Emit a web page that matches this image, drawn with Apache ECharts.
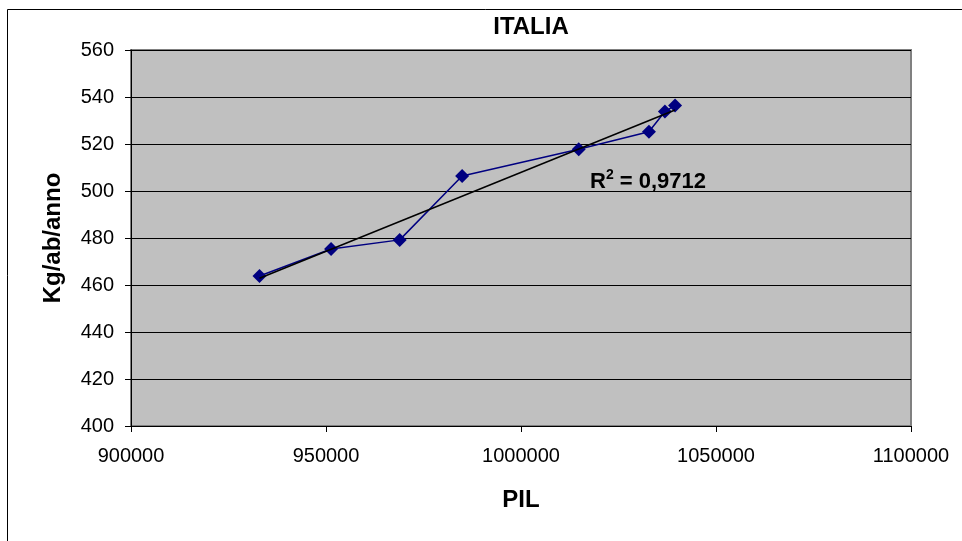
<!DOCTYPE html>
<html>
<head>
<meta charset="utf-8">
<script src="https://cdn.jsdelivr.net/npm/echarts@6/dist/echarts.min.js"></script>
<style>html,body{margin:0;padding:0;background:#fff}#c{width:962px;height:541px}</style>
</head>
<body>
<div id="c"></div>
<script>
const titleText = 'ITALIA';
const xAxisName = 'PIL';
const yAxisName = 'Kg/ab/anno';
const pil = [932950, 951300, 968900, 984900, 1014800, 1032800, 1036900, 1039500];
const kgAbAnno = [463.8, 475.3, 479.2, 506.4, 517.8, 525.2, 533.8, 536.4];
const r2Text = '0,9712';

// Linear trendline (least squares) from the data
const n = pil.length;
const mx = pil.reduce((a, b) => a + b, 0) / n;
const my = kgAbAnno.reduce((a, b) => a + b, 0) / n;
let sxy = 0, sxx = 0;
for (let i = 0; i < n; i++) { sxy += (pil[i] - mx) * (kgAbAnno[i] - my); sxx += (pil[i] - mx) ** 2; }
const slope = sxy / sxx, icpt = my - slope * mx;
const xMin = Math.min(...pil), xMax = Math.max(...pil);
const trend = [[xMin, icpt + slope * xMin], [xMax, icpt + slope * xMax]];

const font = 'Arial, "Liberation Sans", sans-serif';
const chart = echarts.init(document.getElementById('c'));
chart.setOption({
  animation: false,
  backgroundColor: '#fff',
  title: {
    text: titleText, left: 526, top: 10, textAlign: 'center',
    textStyle: { fontFamily: font, fontSize: 24, fontWeight: 'bold', color: '#000' }
  },
  grid: {
    left: 131, right: 51, top: 50, bottom: 115,
    show: true, backgroundColor: '#C0C0C0', borderColor: '#808080', borderWidth: 2
  },
  xAxis: {
    type: 'value', min: 900000, max: 1100000, interval: 50000,
    name: xAxisName, nameLocation: 'middle', nameGap: 62,
    nameTextStyle: { fontFamily: font, fontSize: 24, fontWeight: 'bold', color: '#000' },
    axisLine: { show: true, onZero: false, lineStyle: { color: '#000', width: 1 } },
    axisTick: { show: true, inside: false, length: 6, lineStyle: { color: '#000' } },
    axisLabel: { fontFamily: font, fontSize: 20, color: '#000', margin: 20, formatter: v => String(v) },
    splitLine: { show: false }
  },
  yAxis: {
    type: 'value', min: 400, max: 560, interval: 20,
    name: yAxisName, nameLocation: 'middle', nameGap: 66, nameRotate: 90,
    nameTextStyle: { fontFamily: font, fontSize: 24, fontWeight: 'bold', color: '#000' },
    axisLine: { show: true, onZero: false, lineStyle: { color: '#000', width: 1 } },
    axisTick: { show: true, inside: false, length: 6, lineStyle: { color: '#000' } },
    axisLabel: { fontFamily: font, fontSize: 20, color: '#000', margin: 17 },
    splitLine: { show: true, lineStyle: { color: '#000', width: 1 } }
  },
  graphic: [
    { type: 'rect', shape: { x: 7.5, y: 9.5, width: 1000, height: 1000 }, style: { fill: 'none', stroke: '#000', lineWidth: 1 }, silent: true, z: -1 },
    {
      type: 'text', left: 590, top: 168, z: 100,
      style: {
        text: '{r|R}{s|2}{r| = ' + r2Text + '}',
        rich: {
          r: { fontFamily: font, fontSize: 22, fontWeight: 'bold', fill: '#000' },
          s: { fontFamily: font, fontSize: 14, fontWeight: 'bold', fill: '#000', verticalAlign: 'top', padding: [0, 0, 14, 0] }
        }
      }
    }
  ],
  series: [
    {
      type: 'line', data: pil.map((x, i) => [x, kgAbAnno[i]]),
      symbol: 'diamond', symbolSize: 14,
      itemStyle: { color: '#000080' },
      lineStyle: { color: '#000080', width: 1.5 }, z: 3
    },
    {
      type: 'line', data: trend, symbol: 'none',
      lineStyle: { color: '#000', width: 1.5 }, z: 4
    }
  ]
});
</script>
</body>
</html>
